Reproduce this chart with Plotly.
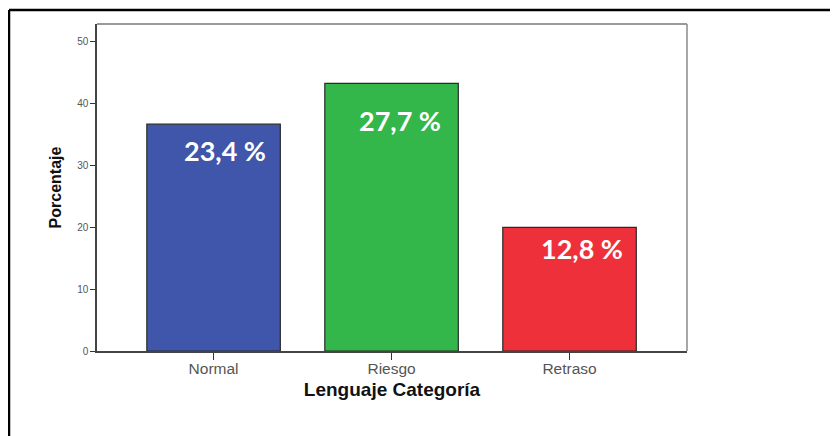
import plotly.graph_objects as go

categories = ["Normal", "Riesgo", "Retraso"]
values = [36.7, 43.3, 20.0]
labels = ["23,4 %", "27,7 %", "12,8 %"]
colors = ["#3F56AA", "#33B74A", "#EE303A"]
y_ticks = [0, 10, 20, 30, 40, 50]

OFF = 8  # page body margin
W, H = 838 - OFF, 436 - OFF
L, T = 97 - OFF, 24 - OFF
pw, ph = 590, 327
R, B = W - L - pw, H - T - ph

fig = go.Figure()
fig.add_trace(go.Bar(
    x=list(range(len(categories))), y=values,
    marker=dict(color=colors, line=dict(color="#2a2a2a", width=1.2)),
    width=0.75, hoverinfo="skip",
))

xshifts = [11, 8, 12]
yshifts = [-26, -37, -21]
for i, (v, lab) in enumerate(zip(values, labels)):
    fig.add_annotation(
        x=i, y=v, text=lab, showarrow=False, xanchor="center", yanchor="middle",
        xshift=xshifts[i], yshift=yshifts[i],
        font=dict(family="Lato", size=27, color="white", weight="bold"),
    )

# plot frame top/right (lighter grey)
fig.add_shape(type="line", xref="paper", yref="paper", x0=0, x1=1, y0=1, y1=1,
              line=dict(color="#9a9a9a", width=2))
fig.add_shape(type="line", xref="paper", yref="paper", x0=1, x1=1, y0=0, y1=1,
              line=dict(color="#8a8a8a", width=1.5))

# outer image frame
fx0 = (9 - OFF - L) / pw
fy_top = 1 + (T - (10 - OFF)) / ph
fy_bot = -(B + 10) / ph
fx1 = (840 - OFF - L) / pw
fig.add_shape(type="line", xref="paper", yref="paper", x0=fx0, x1=fx1, y0=fy_top, y1=fy_top,
              line=dict(color="black", width=2.5))
fig.add_shape(type="line", xref="paper", yref="paper", x0=fx0, x1=fx0, y0=fy_bot, y1=fy_top,
              line=dict(color="black", width=2.5))

fig.update_layout(
    width=W, height=H,
    margin=dict(l=L, r=R, t=T, b=B),
    paper_bgcolor="white", plot_bgcolor="white",
    showlegend=False,
    font=dict(family="Liberation Sans, Arial, sans-serif", color="#555"),
    xaxis=dict(
        range=[-0.655, 2.66], tickmode="array",
        tickvals=list(range(len(categories))), ticktext=categories,
        ticks="outside", ticklen=7, tickwidth=1.2, tickcolor="#333",
        tickfont=dict(size=15.5, color="#555"),
        ticklabelstandoff=-4,
        showline=True, linecolor="#444", linewidth=1.5,
        showgrid=False, zeroline=False, fixedrange=True,
        title=dict(text="<b>Lenguaje Categoría</b>", standoff=6,
                   font=dict(size=19, color="#111", family="Liberation Sans, Arial")),
    ),
    yaxis=dict(
        range=[0, 52.9], tickmode="array", tickvals=y_ticks,
        ticks="outside", ticklen=5, tickwidth=1.2, tickcolor="#333",
        tickfont=dict(size=10, color="#555"),
        showline=True, linecolor="#444", linewidth=1.5,
        showgrid=False, zeroline=False, fixedrange=True,
        title=dict(text="<b>Porcentaje</b>", standoff=12,
                   font=dict(size=16, color="#111", family="Liberation Sans, Arial")),
    ),
)

fig.write_html("out.html")
